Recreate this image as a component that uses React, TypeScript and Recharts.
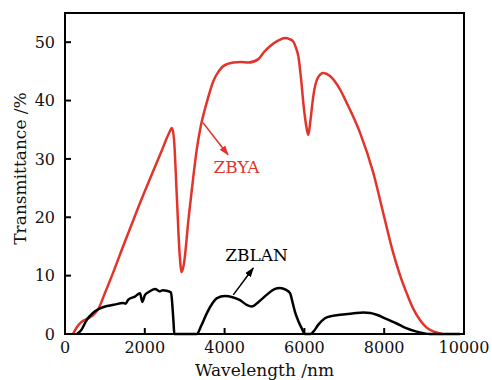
import {
  LineChart,
  Line,
  XAxis,
  YAxis,
  ReferenceArea,
  ReferenceLine,
  ReferenceDot,
} from "recharts";

// ZBYA glass transmittance (red)
const zbya = [
  { x: 200, y: 0 },
  { x: 300, y: 1.2 },
  { x: 400, y: 2.0 },
  { x: 550, y: 2.6 },
  { x: 700, y: 3.2 },
  { x: 835, y: 4.3 },
  { x: 1000, y: 7.0 },
  { x: 1211, y: 10.6 },
  { x: 1450, y: 14.9 },
  { x: 1712, y: 19.5 },
  { x: 1900, y: 22.8 },
  { x: 2130, y: 26.6 },
  { x: 2423, y: 31.4 },
  { x: 2600, y: 34.3 },
  { x: 2680, y: 35.3 },
  { x: 2730, y: 33.5 },
  { x: 2800, y: 24 },
  { x: 2870, y: 14 },
  { x: 2924, y: 10.6 },
  { x: 2980, y: 12 },
  { x: 3100, y: 20 },
  { x: 3200, y: 26 },
  { x: 3300, y: 31.5 },
  { x: 3400, y: 35.5 },
  { x: 3550, y: 39.6 },
  { x: 3717, y: 43.3 },
  { x: 3850, y: 45.0 },
  { x: 3967, y: 45.9 },
  { x: 4218, y: 46.5 },
  { x: 4400, y: 46.6 },
  { x: 4595, y: 46.5 },
  { x: 4845, y: 47.1 },
  { x: 5000, y: 48.4 },
  { x: 5138, y: 49.3 },
  { x: 5350, y: 50.3 },
  { x: 5514, y: 50.7 },
  { x: 5640, y: 50.5 },
  { x: 5722, y: 50.1 },
  { x: 5800, y: 48.8 },
  { x: 5848, y: 47.6 },
  { x: 5920, y: 43.5 },
  { x: 5973, y: 39.6 },
  { x: 6050, y: 35.5 },
  { x: 6098, y: 34.1 },
  { x: 6150, y: 36.5 },
  { x: 6224, y: 40.8 },
  { x: 6330, y: 43.8 },
  { x: 6475, y: 44.7 },
  { x: 6642, y: 44.2 },
  { x: 6892, y: 41.9 },
  { x: 7060, y: 39.6 },
  { x: 7393, y: 34.5 },
  { x: 7727, y: 27.6 },
  { x: 7977, y: 20.7 },
  { x: 8229, y: 13.8 },
  { x: 8400, y: 10.0 },
  { x: 8563, y: 7.0 },
  { x: 8730, y: 4.3 },
  { x: 8897, y: 2.4 },
  { x: 9064, y: 1.1 },
  { x: 9250, y: 0.4 },
  { x: 9450, y: 0 },
];

// ZBLAN glass transmittance (black)
const zblan = [
  { x: 300, y: 0 },
  { x: 400, y: 0.6 },
  { x: 543, y: 2.4 },
  { x: 700, y: 3.6 },
  { x: 877, y: 4.4 },
  { x: 1050, y: 4.8 },
  { x: 1211, y: 5.0 },
  { x: 1462, y: 5.3 },
  { x: 1520, y: 5.2 },
  { x: 1587, y: 5.9 },
  { x: 1750, y: 6.4 },
  { x: 1880, y: 7.0 },
  { x: 1938, y: 5.5 },
  { x: 2005, y: 6.7 },
  { x: 2100, y: 7.2 },
  { x: 2256, y: 7.7 },
  { x: 2381, y: 7.3 },
  { x: 2450, y: 7.5 },
  { x: 2548, y: 7.4 },
  { x: 2657, y: 7.1 },
  { x: 2690, y: 5 },
  { x: 2720, y: 2 },
  { x: 2740, y: 0 },
  { x: 3300, y: 0 },
  { x: 3420, y: 1.5 },
  { x: 3550, y: 3.5 },
  { x: 3700, y: 5.3 },
  { x: 3800, y: 6.1 },
  { x: 4010, y: 6.5 },
  { x: 4200, y: 6.3 },
  { x: 4386, y: 5.8 },
  { x: 4550, y: 5.0 },
  { x: 4678, y: 4.7 },
  { x: 4850, y: 5.5 },
  { x: 5054, y: 6.7 },
  { x: 5250, y: 7.7 },
  { x: 5388, y: 7.9 },
  { x: 5530, y: 7.6 },
  { x: 5639, y: 7.0 },
  { x: 5700, y: 5.5 },
  { x: 5764, y: 3.8 },
  { x: 5850, y: 2.2 },
  { x: 5931, y: 1.0 },
  { x: 6015, y: 0 },
  { x: 6150, y: 0 },
  { x: 6224, y: 0.4 },
  { x: 6350, y: 1.6 },
  { x: 6516, y: 2.7 },
  { x: 6700, y: 3.1 },
  { x: 6892, y: 3.3 },
  { x: 7200, y: 3.5 },
  { x: 7477, y: 3.7 },
  { x: 7650, y: 3.6 },
  { x: 7811, y: 3.3 },
  { x: 8050, y: 2.6 },
  { x: 8312, y: 1.8 },
  { x: 8550, y: 1.0 },
  { x: 8814, y: 0.4 },
  { x: 9148, y: 0 },
  { x: 9900, y: 0 },
];

const xTicks = [0, 2000, 4000, 6000, 8000, 10000];
const yTicks = [0, 10, 20, 30, 40, 50];

const RED = "#e3342c";
const INK = "#111";
const FONT = "'DejaVu Serif', serif";

// y-axis title, drawn by hand so it keeps its own colour
function YTitle(props: any) {
  const vb = props.viewBox || {};
  const cx = (vb.x || 0) + 20;
  const cy = (vb.y || 0) + (vb.height || 0) / 2 - 5;
  return (
    <text
      x={cx}
      y={cy}
      transform={`rotate(-90, ${cx}, ${cy})`}
      textAnchor="middle"
      dominantBaseline="central"
      fill={INK}
      fontSize={17}
      fontFamily={FONT}
    >
      Transmittance /%
    </text>
  );
}

export default function App() {
  return (
    <div style={{ position: "absolute", left: 0, top: 0, background: "#fff" }}>
      <LineChart
        width={492}
        height={380}
        margin={{ top: 13, right: 28, left: 0, bottom: 0 }}
      >
        <defs>
          <marker
            id="arrRed"
            viewBox="0 0 10 10"
            refX="9"
            refY="5"
            markerUnits="userSpaceOnUse"
            markerWidth="10"
            markerHeight="10"
            orient="auto"
          >
            <path d="M0,1.5 L10,5 L0,8.5 z" fill={RED} />
          </marker>
          <marker
            id="arrBlack"
            viewBox="0 0 10 10"
            refX="9"
            refY="5"
            markerUnits="userSpaceOnUse"
            markerWidth="10"
            markerHeight="10"
            orient="auto"
          >
            <path d="M0,1.5 L10,5 L0,8.5 z" fill="#000" />
          </marker>
        </defs>

        <XAxis
          type="number"
          dataKey="x"
          domain={[0, 10000]}
          ticks={xTicks}
          height={46}
          tickSize={-6}
          tickMargin={14}
          axisLine={{ stroke: "#000", strokeWidth: 2 }}
          tickLine={{ stroke: "#000", strokeWidth: 2 }}
          tick={{ fill: INK, fontSize: 16, fontFamily: FONT }}
          label={{
            value: "Wavelength /nm",
            position: "insideBottom",
            offset: 4,
            fontSize: 17,
            fontFamily: FONT,
            style: { fill: INK },
          }}
        />
        <YAxis
          type="number"
          domain={[0, 55]}
          ticks={yTicks}
          width={65}
          tickSize={-6}
          tickMargin={16}
          axisLine={{ stroke: "#000", strokeWidth: 2 }}
          tickLine={{ stroke: "#000", strokeWidth: 2 }}
          tick={{ fill: INK, fontSize: 16, fontFamily: FONT }}
          label={{ content: YTitle }}
        />

        <ReferenceArea
          x1={0}
          x2={10000}
          y1={0}
          y2={55}
          fill="none"
          stroke="#000"
          strokeWidth={2}
        />

        <Line
          data={zbya}
          dataKey="y"
          type="monotone"
          stroke={RED}
          strokeWidth={2.5}
          dot={false}
          isAnimationActive={false}
        />
        <Line
          data={zblan}
          dataKey="y"
          type="monotone"
          stroke="#000"
          strokeWidth={2.5}
          dot={false}
          isAnimationActive={false}
        />

        <ReferenceLine
          segment={[
            { x: 3459, y: 36.2 },
            { x: 4085, y: 30.7 },
          ]}
          stroke={RED}
          strokeWidth={1.5}
          markerEnd="url(#arrRed)"
        />
        <ReferenceLine
          segment={[
            { x: 4218, y: 6.7 },
            { x: 4719, y: 11.3 },
          ]}
          stroke="#000"
          strokeWidth={1.5}
          markerEnd="url(#arrBlack)"
        />

        <ReferenceDot
          x={4298}
          y={28.6}
          r={0}
          fill="none"
          stroke="none"
          label={{ value: "ZBYA", position: "center", fontSize: 17, fontFamily: FONT, style: { fill: RED } }}
        />
        <ReferenceDot
          x={4800}
          y={13.5}
          r={0}
          fill="none"
          stroke="none"
          label={{ value: "ZBLAN", position: "center", fontSize: 17, fontFamily: FONT, style: { fill: "#000" } }}
        />
      </LineChart>
    </div>
  );
}
